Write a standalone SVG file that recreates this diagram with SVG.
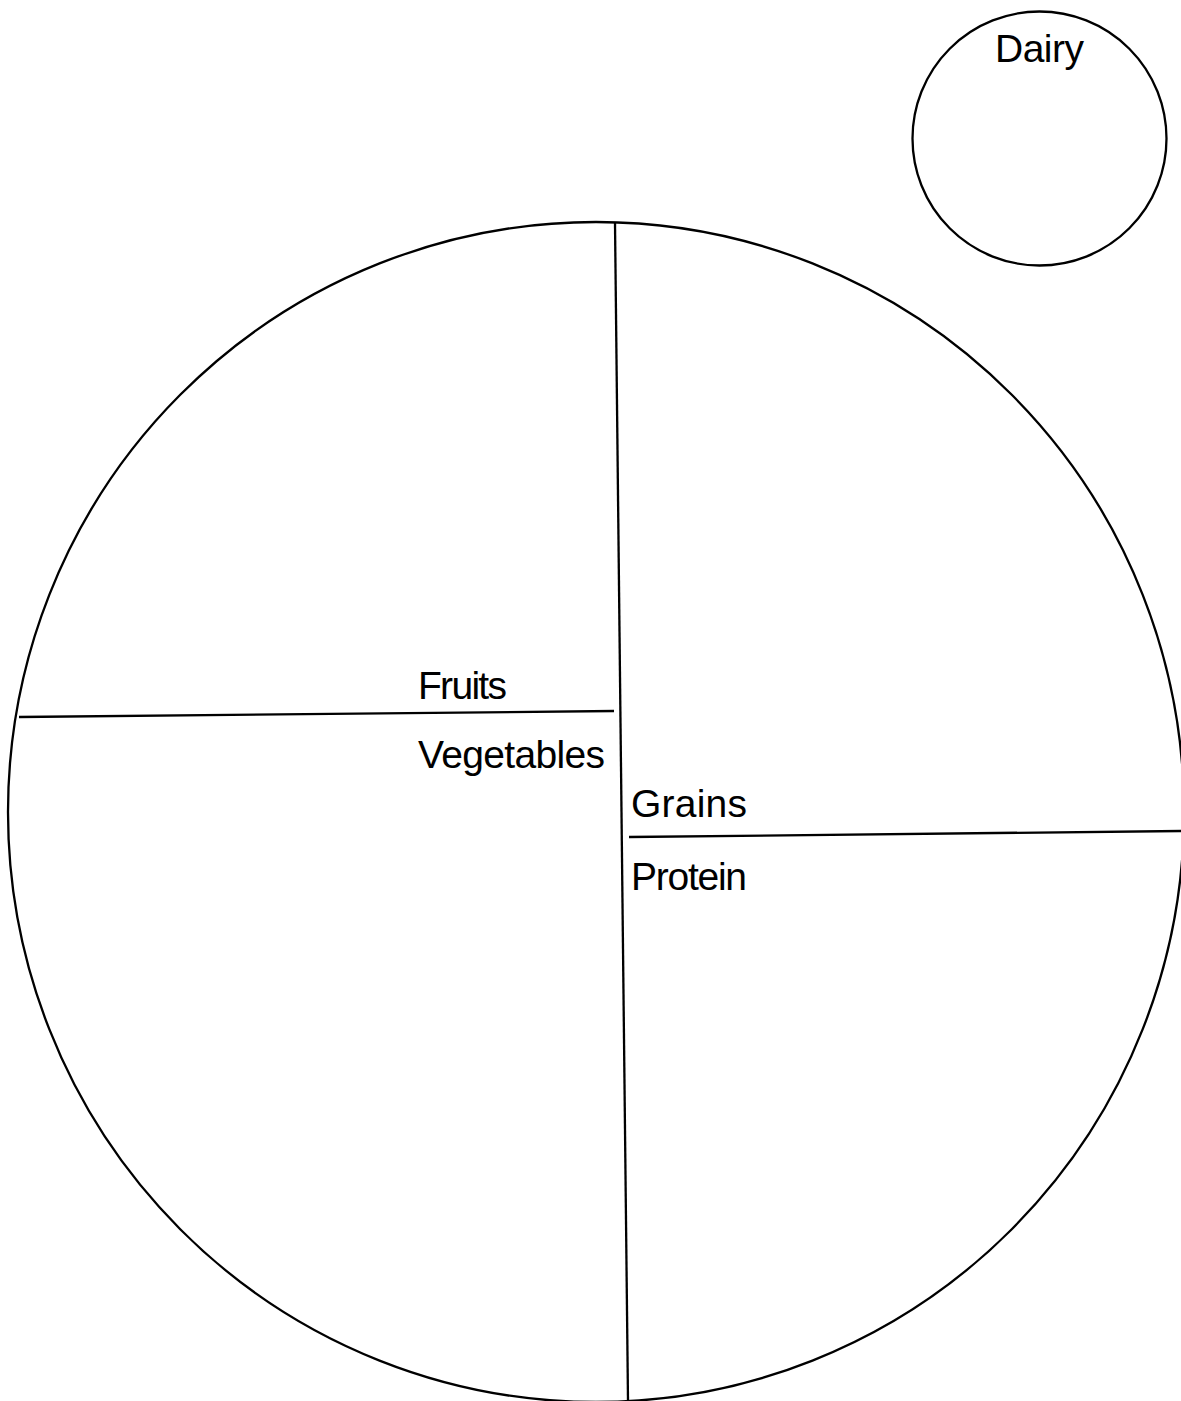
<svg xmlns="http://www.w3.org/2000/svg" width="1181" height="1401" viewBox="0 0 1181 1401">
<style>
.shape{fill:none;stroke:#000;stroke-width:2.3}
.lbl{font-family:"Liberation Sans",Arial,sans-serif;font-size:39px;fill:#000}
</style>
<rect width="1181" height="1401" fill="#fff"/>
<g id="plate">
<ellipse class="shape" cx="596" cy="812" rx="588" ry="590"/>
</g>
<g id="dairy">
<circle class="shape" cx="1039.5" cy="138.5" r="127"/>
<text class="lbl" x="995" y="62" textLength="89">Dairy</text>
</g>
<g id="connectors">
<line class="shape" x1="615" y1="223" x2="628" y2="1401"/>
<line class="shape" x1="19" y1="717" x2="614" y2="711"/>
<line class="shape" x1="629" y1="837" x2="1181" y2="831"/>
</g>
<g id="fruits"><text class="lbl" x="418" y="699" textLength="89">Fruits</text></g>
<g id="vegetables"><text class="lbl" x="418" y="768" textLength="187">Vegetables</text></g>
<g id="grains"><text class="lbl" x="631" y="817" textLength="116">Grains</text></g>
<g id="protein"><text class="lbl" x="631" y="890" textLength="116">Protein</text></g>
</svg>
